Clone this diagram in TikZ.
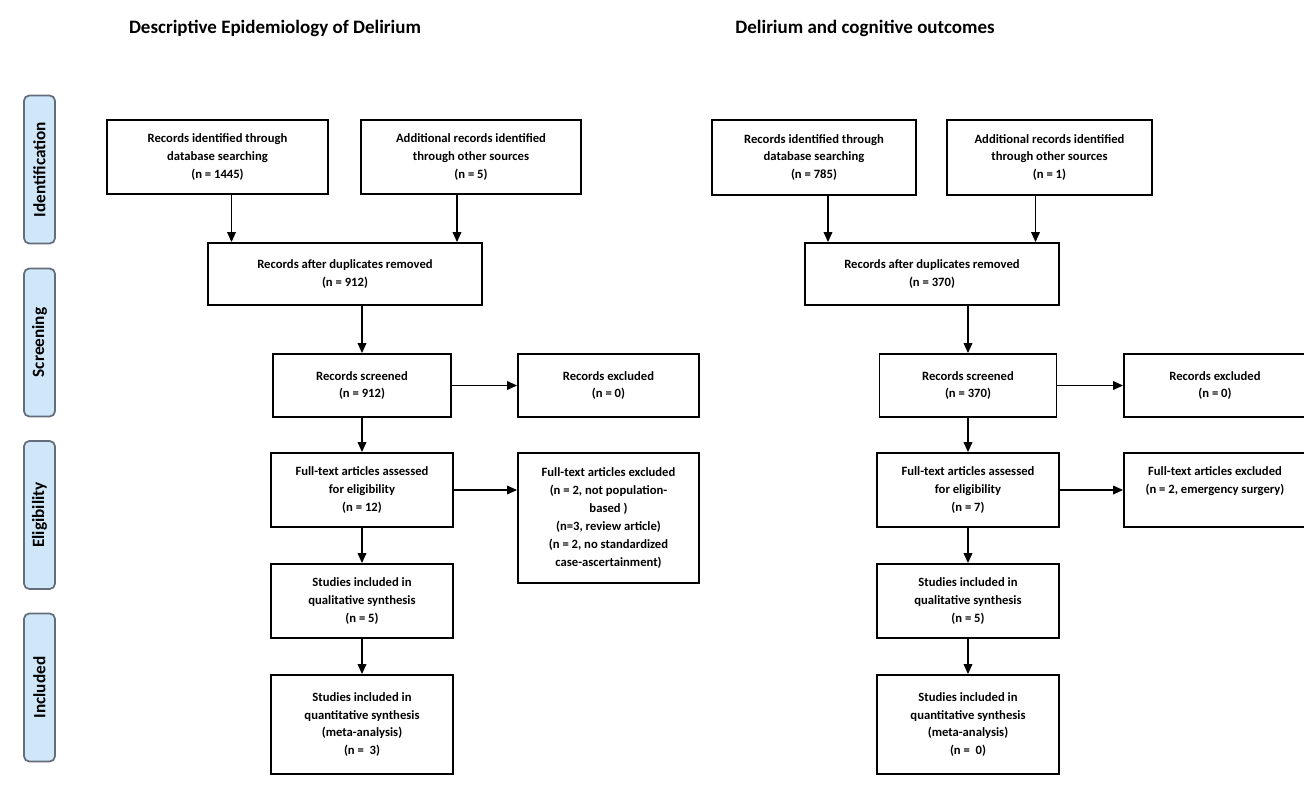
\documentclass[tikz,border=0pt]{standalone}
\usepackage{fontspec}
\setmainfont{Carlito}
\usepackage{tikz}
\usetikzlibrary{arrows.meta,positioning,calc}
\definecolor{stageblue}{RGB}{207,231,248}
\definecolor{stagegrey}{RGB}{100,110,122}

\begin{document}
\begin{tikzpicture}[
    >={Triangle[length=2mm,width=1.7mm]},
    box/.style={rectangle, draw, line width=1pt, align=center, inner sep=2pt,
                font=\bfseries\fontsize{7.2}{10.2}\selectfont},
    sz/.style 2 args={minimum width=#1cm, minimum height=#2cm},
    stage/.style={rectangle, rounded corners=3pt, draw=stagegrey, line width=1pt, fill=stageblue,
                  rotate=90, minimum width=2.96cm, minimum height=0.62cm, inner sep=1pt,
                  font=\bfseries\fontsize{9.8}{11}\selectfont},
    ttl/.style={font=\bfseries\fontsize{10.8}{12}\selectfont},
    arr/.style={->, line width=1pt}
]
\useasboundingbox (0,0) rectangle (26.08,-15.98);

\node[ttl] (t1) at (5.50,-0.56) {Descriptive Epidemiology of Delirium};
\node[ttl] (t2) at (17.30,-0.56) {Delirium and cognitive outcomes};

\node[stage] (s1) at (0.79,-3.39)  {Identification};
\node[stage] (s2) at (0.79,-6.85)  {Screening};
\node[stage] (s3) at (0.79,-10.30) {Eligibility};
\node[stage] (s4) at (0.79,-13.75) {Included};

% left flow
\node[box, sz={4.42}{1.48}] (a1) at (4.35,-3.14) {Records identified through\\database searching\\(n = 1445)};
\node[box, sz={4.40}{1.48}] (a2) at (9.42,-3.14) {Additional records identified\\through other sources\\(n = 5)};
\node[box, sz={5.48}{1.24}] (adup) at (6.90,-5.48) {Records after duplicates removed\\(n = 912)};
\node[box, sz={3.56}{1.26}] (ascr) at (7.24,-7.71) {Records screened\\(n = 912)};
\node[box, sz={3.62}{1.26}] (aexc) at (12.17,-7.71) {Records excluded\\(n = 0)};
\node[box, sz={3.64}{1.48}] (afull) at (7.24,-9.80) {Full-text articles assessed\\for eligibility\\(n = 12)};
\node[box, sz={3.62}{2.60}] (afex) at (12.17,-10.36) {Full-text articles excluded\\(n = 2, not population-\\based )\\(n=3, review article)\\(n = 2, no standardized\\case-ascertainment)};
\node[box, sz={3.64}{1.48}] (aqual) at (7.24,-12.02) {Studies included in\\qualitative synthesis\\(n = 5)};
\node[box, sz={3.64}{1.98}] (aquan) at (7.24,-14.49) {Studies included in\\quantitative synthesis\\(meta-analysis)\\(n =\ \ 3)};

% right flow
\node[box, sz={4.08}{1.50}] (b1) at (16.28,-3.15) {Records identified through\\database searching\\(n = 785)};
\node[box, sz={4.10}{1.50}] (b2) at (20.99,-3.15) {Additional records identified\\through other sources\\(n = 1)};
\node[box, sz={5.08}{1.24}] (bdup) at (18.64,-5.48) {Records after duplicates removed\\(n = 370)};
\node[box, sz={3.54}{1.26}] (bscr) at (19.36,-7.71) {Records screened\\(n = 370)};
\node[box, sz={3.64}{1.26}] (bexc) at (24.30,-7.71) {Records excluded\\(n = 0)};
\node[box, sz={3.64}{1.48}] (bfull) at (19.36,-9.80) {Full-text articles assessed\\for eligibility\\(n = 7)};
\node[box, sz={3.64}{1.48}] (bfex) at (24.30,-9.80) {Full-text articles excluded\\(n = 2, emergency surgery)\\\phantom{(n)}};
\node[box, sz={3.64}{1.48}] (bqual) at (19.36,-12.02) {Studies included in\\qualitative synthesis\\(n = 5)};
\node[box, sz={3.64}{1.98}] (bquan) at (19.36,-14.49) {Studies included in\\quantitative synthesis\\(meta-analysis)\\(n =\ \ 0)};

\foreach \c in {a,b} {
  \draw[arr] ([xshift=2.8mm]\c1.south) -- ([xshift=2.8mm]\c1.south |- \c dup.north);
  \draw[arr] ([xshift=-2.8mm]\c2.south) -- ([xshift=-2.8mm]\c2.south |- \c dup.north);
  \draw[arr] (\c dup.south -| \c scr) -- (\c scr);
  \draw[arr] (\c scr) -- (\c exc);
  \draw[arr] (\c scr) -- (\c full);
  \draw[arr] (\c full.east) -- (\c full.east -| \c fex.west);
  \draw[arr] (\c full) -- (\c qual);
  \draw[arr] (\c qual) -- (\c quan);
}
\end{tikzpicture}
\end{document}
